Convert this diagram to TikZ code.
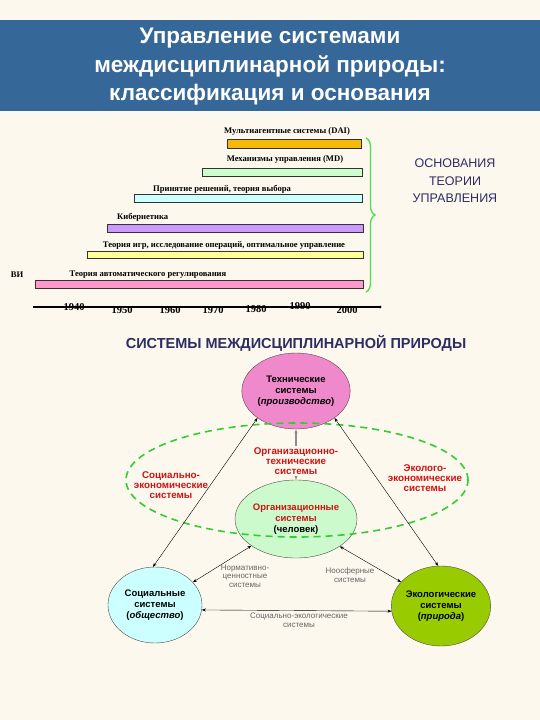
\documentclass[tikz,border=0pt]{standalone}
\usepackage{fontspec}
\setmainfont{Liberation Sans}
\newfontfamily\barfont{Liberation Serif}
\usetikzlibrary{shapes.geometric,decorations.pathreplacing,arrows.meta}
\definecolor{bgcream}{RGB}{252,248,237}
\definecolor{titleblue}{RGB}{53,103,153}
\definecolor{navytext}{RGB}{45,45,100}
\definecolor{redtext}{RGB}{205,20,20}
\definecolor{daibar}{RGB}{245,185,10}
\definecolor{mdbar}{RGB}{204,255,204}
\definecolor{choicebar}{RGB}{204,255,255}
\definecolor{cyberbar}{RGB}{204,153,255}
\definecolor{gamebar}{RGB}{255,255,153}
\definecolor{acrbar}{RGB}{255,153,204}
\definecolor{techpink}{RGB}{240,136,204}
\definecolor{orggreen}{RGB}{204,250,204}
\definecolor{soccyan}{RGB}{204,255,255}
\definecolor{ecogreen}{RGB}{153,204,0}
\definecolor{dashgreen}{RGB}{51,204,51}
\definecolor{bracegreen}{RGB}{80,220,80}
\begin{document}
\begin{tikzpicture}[x=1pt,y=-1pt,
  bar/.style={draw=black!80, line width=0.5pt},
  barlabel/.style={font=\barfont\bfseries\fontsize{8.6}{9}\selectfont, inner sep=0pt},
  year/.style={font=\barfont\bfseries\fontsize{10.5}{11}\selectfont, inner sep=0pt},
  sysnode/.style={ellipse, draw=black!70, line width=0.4pt, minimum width=94pt,
    minimum height=76pt, inner sep=0pt, align=center,
    font=\bfseries\fontsize{9.5}{11}\selectfont},
  redlabel/.style={align=center, text=redtext, inner sep=0pt,
    font=\bfseries\fontsize{9.8}{9.8}\selectfont},
  graylabel/.style={align=center, text=black!60, inner sep=0pt,
    font=\fontsize{8}{8.5}\selectfont},
  link/.style={{Stealth[length=4pt,width=3pt]}-{Stealth[length=4pt,width=3pt]},
    line width=0.4pt}]
  \fill[bgcream] (0,0) rectangle (540,720);
  \fill[titleblue] (0,20) rectangle (540,111);
  \node[text=white, align=center, font=\bfseries\fontsize{22.5}{28.5}\selectfont]
    (title) at (270,67) {Управление системами\\междисциплинарной природы:\\классификация и основания};

  \foreach \c/\xa/\ya/\xb/\yb in {daibar/227/139/361/148, mdbar/202/168/362/176,
      choicebar/134/194/362/202, cyberbar/107/224/363/232,
      gamebar/87/251/363/258, acrbar/35/280/363/288}
    \draw[bar, fill=\c] (\xa,\ya) rectangle (\xb,\yb);
  \node[barlabel] (lbldai) at (287,131) {Мультиагентные системы (DAI)};
  \node[barlabel] (lblmd) at (285,159) {Механизмы управления (MD)};
  \node[barlabel] (lblchoice) at (222,189) {Принятие решений, теория выбора};
  \node[barlabel, anchor=west] (lblcyber) at (117,217) {Кибернетика};
  \node[barlabel] (lblgames) at (224,245) {Теория игр, исследование операций, оптимальное управление};
  \node[barlabel] (lblacr) at (148,275) {Теория автоматического регулирования};
  \node[barlabel] (lblvi) at (17,275) {ВИ};

  \coordinate (axstart) at (33,307);
  \coordinate (axend) at (380,307);
  \draw[line width=1.3pt] (axstart) -- (axend);
  \fill (axend) circle (1.5pt);
  \foreach \yr/\xx/\yy in {1940/74/307, 1950/122/310, 1960/170/310, 1970/213/310,
      1980/256/309, 1990/300/306, 2000/347/310}
    \node[year] (y\yr) at (\xx,\yy) {\yr};

  \coordinate (bracetop) at (366,138);
  \coordinate (bracebot) at (366,292);
  \draw[decorate, decoration={brace, amplitude=9pt}, draw=bracegreen, line width=1.3pt]
    (bracetop) -- (bracebot);
  \node[align=center, text=navytext, font=\fontsize{12.5}{17.5}\selectfont]
    (basis) at (455,181) {ОСНОВАНИЯ\\ТЕОРИИ\\УПРАВЛЕНИЯ};

  \node[text=navytext, font=\bfseries\fontsize{14.5}{15}\selectfont]
    (heading) at (296,343) {СИСТЕМЫ МЕЖДИСЦИПЛИНАРНОЙ ПРИРОДЫ};

  \node[sysnode, fill=techpink] (tech) at (296,391)
    {Технические\\системы\\(\textit{производство})};
  \node[sysnode, fill=orggreen, minimum width=92pt, minimum height=78pt] (org) at (296,519)
    {\textcolor{redtext}{Организационные}\\\textcolor{redtext}{системы}\\(человек)};
  \node[sysnode, fill=soccyan] (soc) at (155,605)
    {Социальные\\системы\\(\textit{общество})};
  \node[sysnode, fill=ecogreen, minimum height=80pt] (eco) at (441,606)
    {Экологические\\системы\\(\textit{природа})};

  \draw[dashgreen, dashed, dash pattern=on 7pt off 5pt, line width=1.6pt]
    (297,480) ellipse (171pt and 57pt);

  \draw[link] (tech.215) -- (soc.93);
  \draw[link] (tech.325) -- (eco.94);
  \draw[link, draw=black!45, line width=1.5pt] (tech.south) -- (org.north);
  \draw[link] (org.211) -- (soc.31);
  \draw[link] (org.328) -- (eco.149);
  \draw[link] (soc.-6) -- (eco.186);

  \node[redlabel, fill=bgcream, inner sep=1.5pt] (orgtech) at (296,461) {Организационно-\\технические\\системы};
  \node[redlabel] (socecon) at (171,485) {Социально-\\экономические\\системы};
  \node[redlabel] (ecoecon) at (425,478) {Эколого-\\экономические\\системы};
  \node[graylabel] (normval) at (245,576) {Нормативно-\\ценностные\\системы};
  \node[graylabel] (noosph) at (350,575) {Ноосферные\\системы};
  \node[graylabel] (socecol) at (299,620) {Социально-экологические\\системы};
\end{tikzpicture}
\end{document}
